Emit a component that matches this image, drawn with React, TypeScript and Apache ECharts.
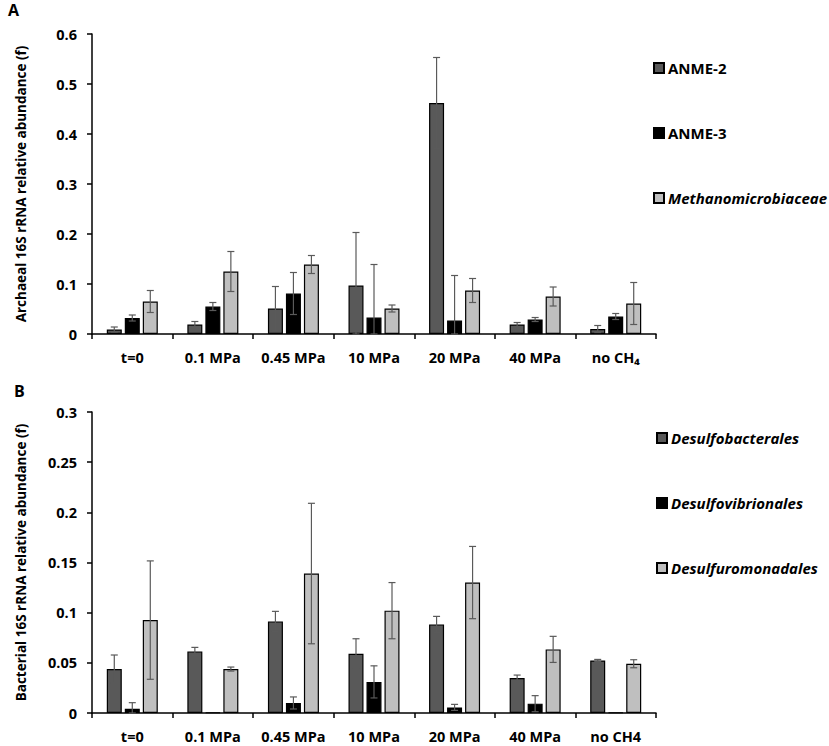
import React, { useEffect, useRef } from "react";
import * as echarts from "echarts";

const categoriesA = ["t=0", "0.1 MPa", "0.45 MPa", "10 MPa", "20 MPa", "40 MPa", "no CH₄"];
const categoriesB = ["t=0", "0.1 MPa", "0.45 MPa", "10 MPa", "20 MPa", "40 MPa", "no CH4"];

const namesA = ["ANME-2", "ANME-3", "Methanomicrobiaceae"];
const anme2 = [0.009, 0.019, 0.051, 0.097, 0.462, 0.019, 0.010];
const anme2Err = [0.005, 0.006, 0.044, 0.106, 0.091, 0.004, 0.007];
const anme3 = [0.032, 0.055, 0.081, 0.033, 0.027, 0.029, 0.035];
const anme3Err = [0.006, 0.008, 0.042, 0.106, 0.090, 0.004, 0.006];
const methano = [0.065, 0.125, 0.139, 0.051, 0.087, 0.075, 0.061];
const methanoErr = [0.022, 0.040, 0.018, 0.007, 0.024, 0.019, 0.042];

const namesB = ["Desulfobacterales", "Desulfovibrionales", "Desulfuromonadales"];
const desulfobact = [0.0438, 0.0614, 0.0913, 0.059, 0.0883, 0.0348, 0.0524];
const desulfobactErr = [0.014, 0.004, 0.010, 0.015, 0.008, 0.003, 0.001];
const desulfovib = [0.0043, 0.0005, 0.010, 0.031, 0.0056, 0.0093, 0.0005];
const desulfovibErr = [0.006, 0, 0.006, 0.016, 0.003, 0.008, 0];
const desulfuro = [0.0926, 0.0438, 0.139, 0.102, 0.130, 0.0634, 0.0491];
const desulfuroErr = [0.059, 0.002, 0.070, 0.028, 0.036, 0.013, 0.004];

const yTicksA = [0, 0.1, 0.2, 0.3, 0.4, 0.5, 0.6];
const yTicksB = [0, 0.05, 0.1, 0.15, 0.2, 0.25, 0.3];

const colors = ["#595959", "#000000", "#bfbfbf"];
const FONT = "Open Sans";
const BAR_W = 15;
const BAR_GAP = 3;

export default function App() {
  const ref = useRef<HTMLDivElement>(null);
  useEffect(() => {
    if (!ref.current) return;
    const chart = echarts.init(ref.current, undefined, { renderer: "svg" });

    const barSeries = (name: string, data: number[], idx: number, grid: number) => ({
      type: "bar",
      name,
      xAxisIndex: grid,
      yAxisIndex: grid,
      data,
      barWidth: BAR_W,
      barGap: "20%",
      itemStyle: { color: colors[idx], borderColor: "#000", borderWidth: 1.2 },
      z: 2,
    });

    const errSeries = (name: string, vals: number[], errs: number[], idx: number, grid: number) => ({
      type: "custom",
      name: name + " error",
      xAxisIndex: grid,
      yAxisIndex: grid,
      z: 5,
      data: vals.map((v, i) => [i, v, errs[i]]),
      encode: { x: 0, y: 1 },
      renderItem: (params: any, api: any) => {
        const ci = api.value(0);
        const v = api.value(1);
        const e = api.value(2);
        if (!e) return { type: "group", children: [] };
        const offset = (idx - 1) * (BAR_W + BAR_GAP);
        const top = api.coord([ci, v + e]);
        const bot = api.coord([ci, Math.max(0, v - e)]);
        const x = top[0] + offset;
        const st = { stroke: "#5a5a5a", lineWidth: 1.2 };
        return {
          type: "group",
          children: [
            { type: "line", shape: { x1: x, y1: top[1], x2: x, y2: bot[1] }, style: st },
            { type: "line", shape: { x1: x - 3.5, y1: top[1], x2: x + 3.5, y2: top[1] }, style: st },
            { type: "line", shape: { x1: x - 3.5, y1: bot[1], x2: x + 3.5, y2: bot[1] }, style: st },
          ],
        };
      },
    });

    const xAxis = (cats: string[], grid: number) => ({
      type: "category",
      gridIndex: grid,
      data: cats,
      boundaryGap: true,
      axisLine: { show: true, lineStyle: { color: "#000", width: 1.5 } },
      axisTick: { show: true, interval: 0, length: 5, lineStyle: { color: "#000", width: 1.5 } },
      axisLabel: {
        interval: 0,
        margin: 16,
        color: "#000",
        fontFamily: FONT,
        fontWeight: "bold",
        fontSize: 14.5,
      },
    });

    const yAxis = (max: number, interval: number, name: string, grid: number) => ({
      type: "value",
      gridIndex: grid,
      min: 0,
      max,
      interval,
      name,
      nameLocation: "middle",
      nameGap: 64,
      nameRotate: 90,
      nameTextStyle: { color: "#000", fontFamily: FONT, fontWeight: "bold", fontSize: 13.5 },
      splitLine: { show: false },
      axisLine: { show: true, lineStyle: { color: "#000", width: 1.5 } },
      axisTick: { show: true, length: 5, lineStyle: { color: "#000", width: 1.5 } },
      axisLabel: {
        margin: 15,
        color: "#000",
        fontFamily: FONT,
        fontWeight: "bold",
        fontSize: 14.5,
        formatter: (v: number) => String(+v.toFixed(2)),
      },
    });

    const legend = (names: string[], italic: boolean[], top: number, left: number) => ({
      orient: "vertical",
      left,
      top,
      itemWidth: 10,
      itemHeight: 10,
      itemGap: 49,
      icon: "rect",
      data: names.map((n, i) => ({
        name: n,
        textStyle: { fontStyle: italic[i] ? "italic" : "normal" },
      })),
      textStyle: {
        color: "#000",
        fontFamily: FONT,
        fontWeight: "bold",
        fontSize: 15,
        lineHeight: 16,
        padding: [0, 0, 0, -1],
      },
    });

    chart.setOption({
      animation: false,
      backgroundColor: "#fff",
      grid: [
        { left: 92, top: 34, width: 564, height: 300 },
        { left: 92, top: 412, width: 564, height: 301 },
      ],
      xAxis: [xAxis(categoriesA, 0), xAxis(categoriesB, 1)],
      yAxis: [
        yAxis(yTicksA[yTicksA.length - 1], yTicksA[1] - yTicksA[0], "Archaeal 16S rRNA relative abundance (f)", 0),
        yAxis(yTicksB[yTicksB.length - 1], yTicksB[1] - yTicksB[0], "Bacterial 16S rRNA relative abundance (f)", 1),
      ],
      legend: [
        legend(namesA, [false, false, true], 55, 648),
        legend(namesB, [true, true, true], 425, 651),
      ],
      graphic: [
        { type: "text", left: 8, top: 2, style: { text: "A", fontFamily: FONT, fontWeight: "bold", fontSize: 16, fill: "#000" } },
        { type: "text", left: 14, top: 383, style: { text: "B", fontFamily: FONT, fontWeight: "bold", fontSize: 16, fill: "#000" } },
      ],
      series: [
        barSeries(namesA[0], anme2, 0, 0),
        barSeries(namesA[1], anme3, 1, 0),
        barSeries(namesA[2], methano, 2, 0),
        errSeries(namesA[0], anme2, anme2Err, 0, 0),
        errSeries(namesA[1], anme3, anme3Err, 1, 0),
        errSeries(namesA[2], methano, methanoErr, 2, 0),
        barSeries(namesB[0], desulfobact, 0, 1),
        barSeries(namesB[1], desulfovib, 1, 1),
        barSeries(namesB[2], desulfuro, 2, 1),
        errSeries(namesB[0], desulfobact, desulfobactErr, 0, 1),
        errSeries(namesB[1], desulfovib, desulfovibErr, 1, 1),
        errSeries(namesB[2], desulfuro, desulfuroErr, 2, 1),
      ],
    });
    return () => chart.dispose();
  }, []);
  return (
    <div
      ref={ref}
      style={{ position: "fixed", left: 0, top: 0, width: 829, height: 746, background: "#fff" }}
    />
  );
}
